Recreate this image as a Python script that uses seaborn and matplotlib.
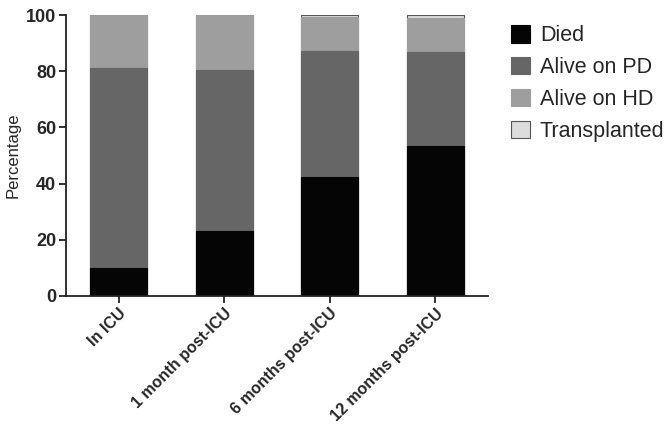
import matplotlib
matplotlib.use("Agg")
import matplotlib.pyplot as plt
import matplotlib.patches as mpatches
import seaborn as sns
import numpy as np
import pandas as pd

# === DATOS ===
categories = ["In ICU", "1 month post-ICU", "6 months post-ICU", "12 months post-ICU"]
died = [10.0, 23.3, 42.4, 53.3]
alive_pd = [71.3, 57.0, 44.8, 33.6]
alive_hd = [18.7, 19.7, 12.1, 12.2]
transplanted = [0.0, 0.0, 0.7, 0.9]

series_names = ["Died", "Alive on PD", "Alive on HD", "Transplanted"]
colors = ["#050505", "#666666", "#9e9e9e", "#dcdcdc"]

sns.set_style("ticks")
plt.rcParams["font.family"] = ["Liberation Sans", "DejaVu Sans"]

fig = plt.figure(figsize=(6.7, 4.25), dpi=100)
ax = fig.add_axes([66 / 670, 1 - 296 / 425, (488 - 66) / 670, (296 - 15) / 425])

# pilas acumuladas, dibujadas de arriba hacia abajo
layers = np.array([died, alive_pd, alive_hd, transplanted])
cum = np.cumsum(layers, axis=0)
for i in range(len(series_names) - 1, -1, -1):
    df = pd.DataFrame({"cat": categories, "val": cum[i]})
    sns.barplot(data=df, x="cat", y="val", color=colors[i], width=0.54,
                edgecolor="#555555" if i == 3 else colors[i], linewidth=0.8,
                saturation=1, ax=ax)

ax.set_xlim(-0.5, 3.5)
ax.set_ylim(0, 100)
ax.set_yticks([0, 20, 40, 60, 80, 100])
ax.set_xlabel("")
ax.set_ylabel("Percentage", fontsize=12, labelpad=4)
for s in ["top", "right"]:
    ax.spines[s].set_visible(False)
for s in ["left", "bottom"]:
    ax.spines[s].set_linewidth(1.3)
    ax.spines[s].set_color("#222222")
ax.tick_params(axis="both", length=5, width=1.3, color="#222222", pad=2)
plt.setp(ax.get_yticklabels(), fontsize=13, fontweight="bold")
ax.set_xticks(range(len(categories)))
ax.set_xticklabels(categories, rotation=45, ha="right", rotation_mode="anchor",
                   fontsize=11.5, fontweight="bold")

handles = [mpatches.Patch(facecolor=c, edgecolor="#555555" if n == "Transplanted" else c,
                          linewidth=0.8, label=n)
           for n, c in zip(series_names, colors)]
fig.legend(handles=handles, loc="upper left", bbox_to_anchor=(492 / 670, 1 - 6 / 425),
           frameon=False, fontsize=15.5, handlelength=0.85, handleheight=0.85,
           handletextpad=0.47, labelspacing=0.5, borderpad=0.4)

fig.savefig("out.png", dpi=100)
